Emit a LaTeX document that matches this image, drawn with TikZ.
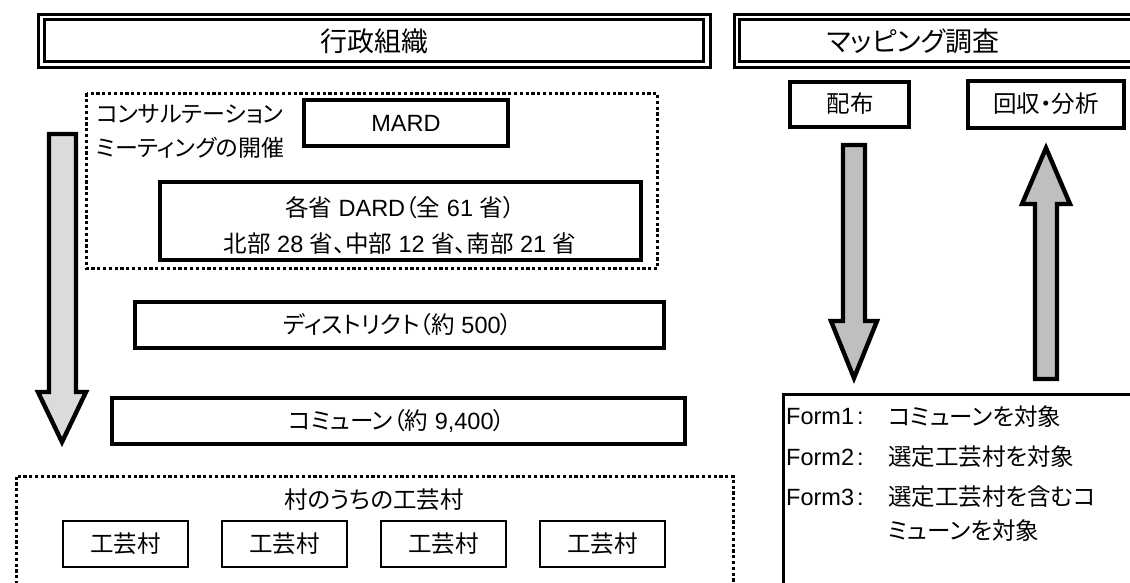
\documentclass[tikz,border=0pt]{standalone}
\usepackage{fontspec}
\setmainfont{Liberation Sans}
\newfontfamily\jp[RawFeature=+palt]{Noto Sans CJK JP}
\begin{document}
\begin{tikzpicture}[x=1pt,y=-1pt,
  txt/.style={inner sep=0pt,font=\fontsize{23.5}{28}\selectfont},
  ttl/.style={inner sep=0pt,font=\fontsize{27}{30}\selectfont},
  boxthick/.style={draw,line width=4.6pt},
  boxthin/.style={draw,line width=2.4pt},
  dotbox/.style={draw,line width=3.4pt,dash pattern=on 3.2pt off 2.6pt},
  bigarrow/.style={draw,line width=4.4pt,line join=miter,fill=#1}]
\useasboundingbox (0,0) rectangle (1130,583);
\clip (0,0) rectangle (1130,583);
\fill[white] (0,0) rectangle (1130,583);
% titles
\draw[line width=3pt] (38.5,14.5) rectangle (710.5,67.5);
\draw[line width=2.8pt] (44.5,19.5) rectangle (703.5,61.5);
\node[ttl] (t1) at (374,41) {\jp 行政組織};
\draw[line width=3pt] (734.5,14.5) rectangle (1140,67.5);
\draw[line width=2.8pt] (739.5,19.5) rectangle (1140,61.5);
\node[ttl] (t2) at (913,41) {\jp マッピング調査};
% consultation
\draw[dotbox] (86.5,93.5) rectangle (657.5,268.5);
\node[txt,anchor=north west,align=left,font=\fontsize{23}{34}\selectfont] (cons) at (96,104) {\jp コンサルテーション\\\jp ミーティングの開催};
\draw[boxthick] (304,100) rectangle (508,146);
\node[txt] (mard) at (406,123) {MARD};
\draw[boxthick] (160,182) rectangle (641,260);
\node[txt,align=center,font=\fontsize{23.5}{36}\selectfont] (dard) at (400,225) {{\jp 各省} DARD{\jp （全} 61 {\jp 省）}\\{\jp 北部} 28 {\jp 省、中部} 12 {\jp 省、南部} 21 {\jp 省}};
\draw[boxthick] (135,302) rectangle (664,348);
\node[txt] (dist) at (398,325) {{\jp ディストリクト（約} 500{\jp ）}};
\draw[boxthick] (112,398) rectangle (685,444);
\node[txt] (comm) at (397,421) {{\jp コミューン（約} 9,400{\jp ）}};
% big left arrow
\draw[bigarrow={black!14}] (49,134) -- (76,134) -- (76,392) -- (86,392) -- (62,442) -- (38,392) -- (49,392) -- cycle;
% villages
\draw[dotbox] (16.5,476.5) rectangle (733.5,620);
\node[txt] (vtitle) at (374,500) {\jp 村のうちの工芸村};
\foreach \i/\x in {1/63,2/222,3/381,4/540}{
  \draw[boxthin] (\x,521) rectangle (\x+125,567);
  \node[txt] (v\i) at (\x+62.5,544) {\jp 工芸村};
}
% mapping
\draw[boxthick] (790,82) rectangle (909,127);
\node[txt] (hai) at (850,104) {\jp 配布};
\draw[boxthick] (968,81) rectangle (1124,128);
\node[txt] (kai) at (1046,104) {\jp 回収・分析};
\draw[bigarrow={black!25}] (843,145) -- (865,145) -- (865,321) -- (877,321) -- (854,378) -- (831,321) -- (843,321) -- cycle;
\draw[bigarrow={black!25}] (1046,148) -- (1070,204) -- (1057,204) -- (1057,379) -- (1035,379) -- (1035,204) -- (1022,204) -- cycle;
% form box
\draw[line width=3.3pt] (1140,394.5) -- (783.5,394.5) -- (783.5,620);
\node[txt,anchor=west] (f1l) at (786,417) {Form1\hspace{3pt}:};
\node[txt,anchor=west] (f1) at (888,417) {\jp コミューンを対象};
\node[txt,anchor=west] (f2l) at (786,457) {Form2\hspace{3pt}:};
\node[txt,anchor=west] (f2) at (888,457) {\jp 選定工芸村を対象};
\node[txt,anchor=west] (f3l) at (786,497) {Form3\hspace{3pt}:};
\node[txt,anchor=west] (f3) at (888,497) {\jp 選定工芸村を含むコ};
\node[txt,anchor=west] (f4) at (888,531) {\jp ミューンを対象};
\end{tikzpicture}
\end{document}
